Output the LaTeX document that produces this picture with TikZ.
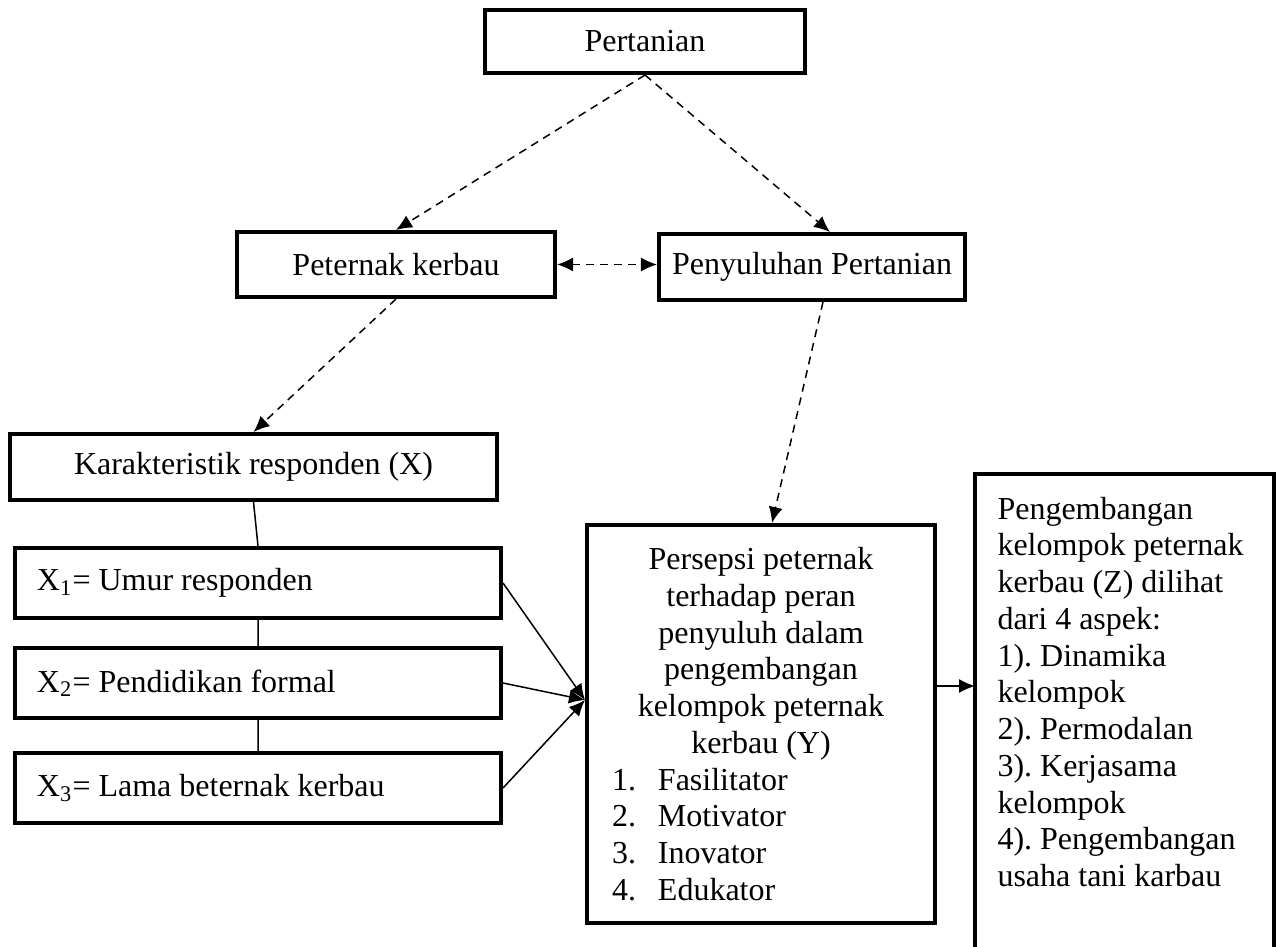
\documentclass[tikz,border=0pt]{standalone}
\usepackage{fontspec}
\setmainfont{Liberation Serif}
\usetikzlibrary{arrows.meta}
\frenchspacing
\newcommand{\peranitem}[2]{\makebox[119.2pt][l]{\makebox[18.4pt][l]{#1}#2}}

\begin{document}
\begin{tikzpicture}[x=0.4pt, y=-0.4pt, font=\fontsize{12.8}{14.7}\selectfont]
        \tikzstyle{box}=[draw, line width=1.6pt, inner sep=0pt]
        \tikzstyle{xbox}=[box, minimum width=194.4pt, minimum height=28pt, text width=176.8pt, inner xsep=8.8pt, align=flush left]
        \tikzstyle{dasharrow}=[line width=0.6pt, dash pattern=on 3.2pt off 2.4pt, -{Latex[length=6.4pt,width=5.6pt]}]
        \tikzstyle{solidarrow}=[line width=0.6pt, -{Latex[length=6.4pt,width=5.6pt]}]
        \useasboundingbox (0,0) rectangle (1276,947);
        \node[box, minimum width=128pt, minimum height=25.2pt] (pert) at (645,41.5) {Pertanian};
        \node[box, minimum width=127.2pt, minimum height=26pt] (pet) at (396,264.5) {Peternak kerbau};
        \node[box, minimum width=122.4pt, minimum height=26.4pt] (peny) at (812,267) {Penyuluhan Pertanian};
        \node[box, minimum width=194.8pt, minimum height=26.4pt] (kar) at (253.5,467) {Karakteristik responden (X)};
        \node[xbox] (x1) at (258,583) {X\textsubscript{1}= Umur responden};
        \node[xbox] (x2) at (258,683) {X\textsubscript{2}= Pendidikan formal};
        \node[xbox] (x3) at (258,788) {X\textsubscript{3}= Lama beternak kerbau};
        \node[box, minimum width=139.2pt, minimum height=159.2pt, text width=119.2pt, inner xsep=10pt, align=flush center] (pers) at (761,724)
            {Persepsi peternak\\terhadap peran\\penyuluh dalam\\pengembangan\\kelompok peternak\\kerbau (Y)\\
             \peranitem{1.}{Fasilitator}\\\peranitem{2.}{Motivator}\\\peranitem{3.}{Inovator}\\\peranitem{4.}{Edukator}};
        \node[anchor=north west, text width=101.6pt, inner xsep=8.8pt, inner ysep=9pt, align=flush left] (peng) at (975,474)
            {Pengembangan\\kelompok peternak\\kerbau (Z) dilihat\\dari 4 aspek:\\1). Dinamika\\kelompok\\2). Permodalan\\3). Kerjasama\\kelompok\\4). Pengembangan\\usaha tani karbau};
        \draw[line width=1.6pt] (peng.north west |- 0,950) -- (peng.north west) -- (peng.north east) -- (peng.north east |- 0,950);
        \coordinate (meet) at ([yshift=9.6pt]pers.west);
        \draw[dasharrow] (pert.south) -- (pet.north);
        \draw[dasharrow] (pert.south) -- ([xshift=7.2pt]peny.north);
        \draw[dasharrow, {Latex[length=6.4pt,width=5.6pt]}-{Latex[length=6.4pt,width=5.6pt]}] (pet.east) -- (pet.east -| peny.west);
        \draw[dasharrow] (pet.south) -- (kar.north);
        \draw[dasharrow] ([xshift=4.4pt]peny.south) -- ([xshift=4.4pt]pers.north);
        \draw[line width=0.6pt] (kar.south) -- (x1.north) (x1.south) -- (x2.north) (x2.south) -- (x3.north);
        \draw[solidarrow] (x1.east) -- (meet);
        \draw[solidarrow] (x2.east) -- (meet);
        \draw[solidarrow] (x3.east) -- (meet);
        \draw[solidarrow] ([yshift=15.2pt]pers.east) -- ([yshift=15.2pt]pers.east -| peng.west);
    \end{tikzpicture}
\end{document}
